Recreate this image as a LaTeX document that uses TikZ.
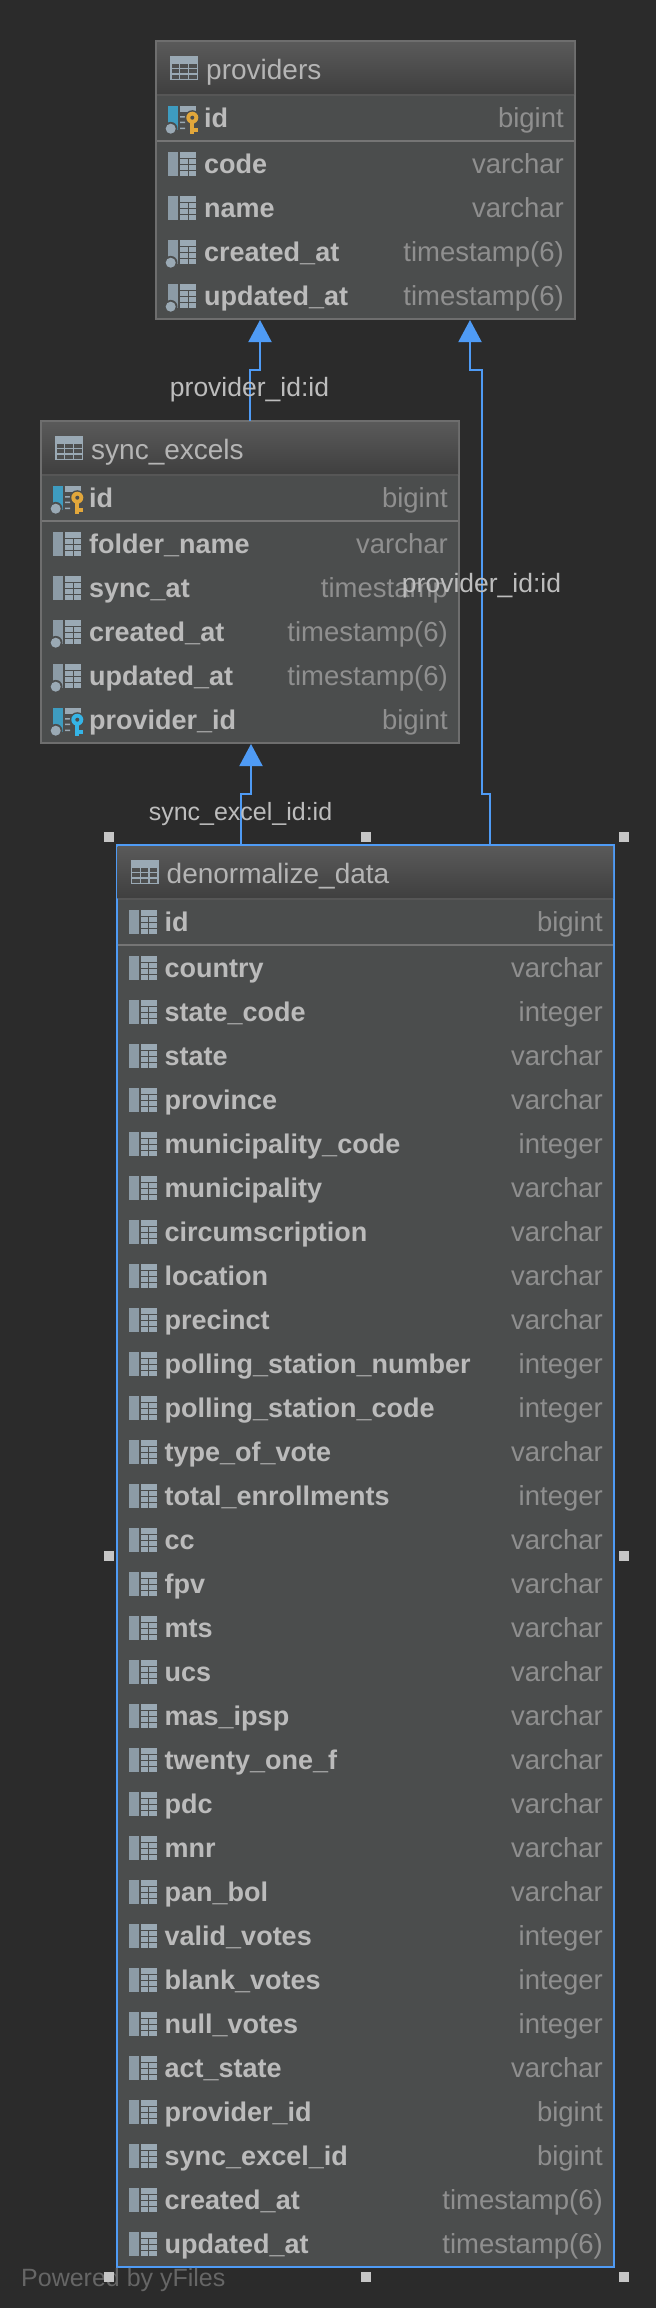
\documentclass[tikz,border=0pt]{standalone}
\usepackage{fontspec}
\setmainfont{Liberation Sans}
\usetikzlibrary{arrows.meta,calc}
\definecolor{bgc}{HTML}{2B2B2B}
\definecolor{bodyc}{HTML}{4B4D4D}
\definecolor{edgec}{HTML}{6E6E6E}
\definecolor{sepc}{HTML}{757575}
\definecolor{hsepc}{HTML}{565656}
\definecolor{selc}{HTML}{4F9BF5}
\definecolor{namec}{HTML}{BBBBBB}
\definecolor{typec}{HTML}{8F8F8F}
\definecolor{titlec}{HTML}{B5B5B5}
\definecolor{labelc}{HTML}{BDBDBD}
\definecolor{iconc}{HTML}{9AA9B4}
\definecolor{barc}{HTML}{8C9BA6}
\definecolor{pkbar}{HTML}{3E9CC0}
\definecolor{keygold}{HTML}{E2A73B}
\definecolor{keyblue}{HTML}{35B4E6}
\definecolor{handlec}{HTML}{C6C6C6}
\definecolor{footc}{HTML}{666666}
\definecolor{hdtop}{HTML}{5A5A5A}
\definecolor{hdbot}{HTML}{3F3F3F}
\definecolor{hdmid}{HTML}{4E4F4F}
\tikzset{
  tablebox/.style={draw=edgec,line width=2pt,fill=bodyc,rectangle,inner sep=0pt,outer sep=0pt,anchor=north west},
  selbox/.style={tablebox,draw=selc},
  titletext/.style={anchor=base west,inner sep=0pt,text=titlec,font=\fontsize{28}{30}\selectfont},
  nametext/.style={anchor=base west,inner sep=0pt,text=namec,font=\fontsize{27}{30}\selectfont\bfseries},
  typetext/.style={anchor=base east,inner sep=0pt,text=typec,font=\fontsize{27.5}{30}\selectfont},
  linktext/.style={anchor=base,inner sep=0pt,text=labelc,font=\fontsize{26.5}{30}\selectfont},
  conn/.style={draw=selc,line width=2pt,-{Triangle[width=23pt,length=22pt,fill=selc]},shorten >=1pt},
  grip/.style={fill=handlec,rectangle,inner sep=0pt,minimum size=10pt,outer sep=0pt},
}
% icon parts; origin at (table left, row centre)
\newcommand{\minitable}{%
  \fill[iconc] (24,-13) rectangle (40,11);
  \draw[bodyc,line width=1pt] (24,-7)--(40,-7) (24,-1)--(40,-1) (24,5)--(40,5) (32,-7)--(32,11);
}
\newcommand{\keyparts}[1]{%
  \fill[iconc] (24,-13) rectangle (40,-7);
  \fill[iconc] (24,-3) rectangle (29,-1.5) (24,2.5) rectangle (29,4) (24,8.5) rectangle (29,10);
  \fill[bodyc] (36.3,-1.3) circle (7.5);
  \fill[bodyc] (33.3,0) rectangle (39.3,16);
  \fill[#1] (36.3,-1.3) circle (6);
  \fill[#1] (34.3,0) rectangle (38.3,15);
  \fill[#1] (38,9.3) rectangle (42.3,12.7);
  \fill[bodyc] (36.3,-1.3) circle (2);
}
\newcommand{\dotparts}{%
  \fill[bodyc] (14.7,9.7) circle (6.8);
  \fill[iconc] (14.7,9.7) circle (5);
}
\newcommand{\iconplain}{\fill[barc] (12,-13) rectangle (22,11);\minitable}
\newcommand{\icondot}{\fill[barc] (12,-13) rectangle (22,11);\minitable\dotparts}
\newcommand{\iconpk}{\fill[pkbar] (12,-13) rectangle (22,11);\dotparts\keyparts{keygold}}
\newcommand{\iconfk}{\fill[pkbar] (12,-13) rectangle (22,11);\dotparts\keyparts{keyblue}}
% #1 table name, #2 title, #3 left, #4 top, #5 width, #6 height, #7 style
\newcommand{\dbtable}[7]{%
  \node[#7,minimum width=#5pt,minimum height=#6pt] (#1) at (#3,#4) {};
  \shade[top color=hdtop,bottom color=hdbot]
     ($(#1.north west)+(1pt,-1pt)$) rectangle ($(#1.north east)+(-1pt,-53pt)$);
  \draw[hsepc,line width=2pt] ($(#1.north west)+(1pt,-54pt)$) -- ($(#1.north east)+(-1pt,-54pt)$);
  \draw[sepc,line width=2pt] ($(#1.north west)+(1pt,-100pt)$) -- ($(#1.north east)+(-1pt,-100pt)$);
  \begin{scope}[shift={($(#1.north west)+(14pt,-15pt)$)}]
    \fill[iconc] (0,0) rectangle (28,24);
    \foreach \cx in {1.5,10.25,19}{\foreach \cy in {8,13.3,18.6}{
      \fill[hdmid] (\cx,\cy) rectangle ++(7.5,4);}}
  \end{scope}
  \node[titletext] (#1-title) at ($(#1.north west)+(50pt,-38pt)$) {#2};
}
% #1 table, #2 row id, #3 offset from top, #4 icon, #5 name, #6 type
\newcommand{\dbrow}[6]{%
  \begin{scope}[shift={($(#1.north west)+(0pt,-#3pt)$)}]#4\end{scope}
  \node[nametext] (#1-n#2) at ($(#1.north west)+(48pt,-#3pt-8.5pt)$) {#5};
  \node[typetext] (#1-t#2) at ($(#1.north east)+(-11pt,-#3pt-8.5pt)$) {#6};
}
\begin{document}
\begin{tikzpicture}[x=1pt,y=-1pt]
\useasboundingbox (0,0) rectangle (656,2308);
\fill[bgc] (0,0) rectangle (656,2308);

\dbtable{prov}{providers}{156}{41}{419}{278}{tablebox}
\dbrow{prov}{0}{78}{\iconpk}{id}{bigint}
\dbrow{prov}{1}{124}{\iconplain}{code}{varchar}
\dbrow{prov}{2}{168}{\iconplain}{name}{varchar}
\dbrow{prov}{3}{212}{\icondot}{created\_at}{timestamp(6)}
\dbrow{prov}{4}{256}{\icondot}{updated\_at}{timestamp(6)}

\dbtable{sync}{sync\_excels}{41}{421}{418}{322}{tablebox}
\dbrow{sync}{0}{78}{\iconpk}{id}{bigint}
\dbrow{sync}{1}{124}{\iconplain}{folder\_name}{varchar}
\dbrow{sync}{2}{168}{\iconplain}{sync\_at}{timestamp}
\dbrow{sync}{3}{212}{\icondot}{created\_at}{timestamp(6)}
\dbrow{sync}{4}{256}{\icondot}{updated\_at}{timestamp(6)}
\dbrow{sync}{5}{300}{\iconfk}{provider\_id}{bigint}

\dbtable{den}{denormalize\_data}{116.5}{845}{497.5}{1422}{selbox}
\dbrow{den}{0}{78}{\iconplain}{id}{bigint}
\dbrow{den}{1}{124}{\iconplain}{country}{varchar}
\dbrow{den}{2}{168}{\iconplain}{state\_code}{integer}
\dbrow{den}{3}{212}{\iconplain}{state}{varchar}
\dbrow{den}{4}{256}{\iconplain}{province}{varchar}
\dbrow{den}{5}{300}{\iconplain}{municipality\_code}{integer}
\dbrow{den}{6}{344}{\iconplain}{municipality}{varchar}
\dbrow{den}{7}{388}{\iconplain}{circumscription}{varchar}
\dbrow{den}{8}{432}{\iconplain}{location}{varchar}
\dbrow{den}{9}{476}{\iconplain}{precinct}{varchar}
\dbrow{den}{10}{520}{\iconplain}{polling\_station\_number}{integer}
\dbrow{den}{11}{564}{\iconplain}{polling\_station\_code}{integer}
\dbrow{den}{12}{608}{\iconplain}{type\_of\_vote}{varchar}
\dbrow{den}{13}{652}{\iconplain}{total\_enrollments}{integer}
\dbrow{den}{14}{696}{\iconplain}{cc}{varchar}
\dbrow{den}{15}{740}{\iconplain}{fpv}{varchar}
\dbrow{den}{16}{784}{\iconplain}{mts}{varchar}
\dbrow{den}{17}{828}{\iconplain}{ucs}{varchar}
\dbrow{den}{18}{872}{\iconplain}{mas\_ipsp}{varchar}
\dbrow{den}{19}{916}{\iconplain}{twenty\_one\_f}{varchar}
\dbrow{den}{20}{960}{\iconplain}{pdc}{varchar}
\dbrow{den}{21}{1004}{\iconplain}{mnr}{varchar}
\dbrow{den}{22}{1048}{\iconplain}{pan\_bol}{varchar}
\dbrow{den}{23}{1092}{\iconplain}{valid\_votes}{integer}
\dbrow{den}{24}{1136}{\iconplain}{blank\_votes}{integer}
\dbrow{den}{25}{1180}{\iconplain}{null\_votes}{integer}
\dbrow{den}{26}{1224}{\iconplain}{act\_state}{varchar}
\dbrow{den}{27}{1268}{\iconplain}{provider\_id}{bigint}
\dbrow{den}{28}{1312}{\iconplain}{sync\_excel\_id}{bigint}
\dbrow{den}{29}{1356}{\iconplain}{created\_at}{timestamp(6)}
\dbrow{den}{30}{1400}{\iconplain}{updated\_at}{timestamp(6)}

% connectors
\draw[conn] ([xshift=209pt]sync.north west) -- ++(0,-51) -- ++(10,0) -- ([xshift=104pt]prov.south west);
\draw[conn] ([xshift=373.5pt]den.north west) -- ++(0,-51) -- ++(-8.5,0) -- ++(0,-424) -- ++(-11.5,0) -- ([xshift=314pt]prov.south west);
\draw[conn] ([xshift=124pt]den.north west) -- ++(0,-51) -- ++(10.5,0) -- ([xshift=210pt]sync.south west);

\node[linktext] (l1) at (249.5,396) {provider\_id:id};
\node[linktext] (l2) at (481.5,592) {provider\_id:id};
\node[linktext,font=\fontsize{25}{30}\selectfont] (l3) at (240.5,820) {sync\_excel\_id:id};

\node[anchor=base west,inner sep=0pt,text=footc,font=\fontsize{25}{30}\selectfont] (foot) at (21,2286) {Powered by yFiles};

\node[grip] (h1) at (108.5,837) {};
\node[grip] (h2) at (366,837) {};
\node[grip] (h3) at (624,837) {};
\node[grip] (h4) at (108.5,1556) {};
\node[grip] (h5) at (624,1556) {};
\node[grip] (h6) at (108.5,2277) {};
\node[grip] (h7) at (366,2277) {};
\node[grip] (h8) at (624,2277) {};
\end{tikzpicture}
\end{document}
